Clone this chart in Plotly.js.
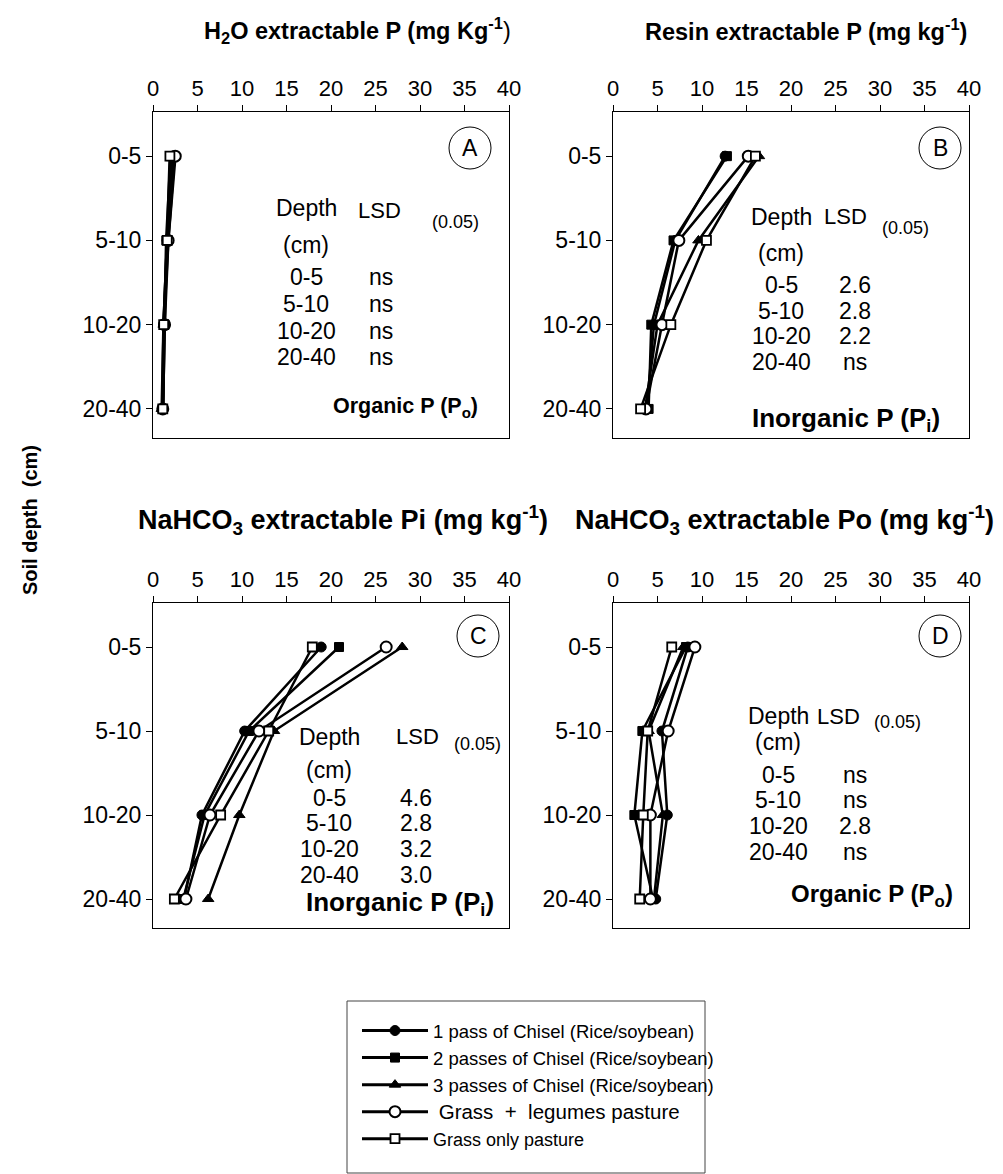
<!DOCTYPE html>
<html>
<head>
<meta charset="utf-8">
<script src="https://cdn.plot.ly/plotly-3.0.1.min.js"></script>
<style>
html,body{margin:0;padding:0;background:#fff;}
#chart{width:1003px;height:1174px;}
</style>
</head>
<body>
<div id="chart"></div>
<script>
// ---------- DATA ----------
var depths = ['0-5', '5-10', '10-20', '20-40'];
var seriesNames = [
  '1 pass of Chisel (Rice/soybean)',
  '2 passes of Chisel (Rice/soybean)',
  '3 passes of Chisel (Rice/soybean)',
  'Grass  +  legumes pasture',
  'Grass only pasture'
];
var xTicks = [0, 5, 10, 15, 20, 25, 30, 35, 40];

// Panel A: H2O extractable Po
var h2oPass1 = [2.2, 1.6, 1.2, 1.1];
var h2oPass2 = [2.0, 1.5, 1.3, 1.1];
var h2oPass3 = [2.4, 1.7, 1.2, 1.0];
var h2oGrassLeg = [2.5, 1.7, 1.3, 1.1];
var h2oGrass = [1.9, 1.6, 1.2, 1.1];

// Panel B: Resin extractable Pi
var resinPass1 = [12.6, 7.0, 4.6, 3.8];
var resinPass2 = [12.8, 6.8, 4.3, 4.0];
var resinPass3 = [16.4, 9.6, 5.0, 3.6];
var resinGrassLeg = [15.2, 7.4, 5.5, 3.7];
var resinGrass = [16.0, 10.5, 6.5, 3.1];

// Panel C: NaHCO3 extractable Pi
var bicPiPass1 = [18.9, 10.3, 5.5, 3.5];
var bicPiPass2 = [20.9, 10.8, 5.8, 3.4];
var bicPiPass3 = [28.0, 13.6, 9.7, 6.2];
var bicPiGrassLeg = [26.2, 11.9, 6.4, 3.7];
var bicPiGrass = [17.9, 13.0, 7.6, 2.4];

// Panel D: NaHCO3 extractable Po
var bicPoPass1 = [8.4, 5.5, 6.1, 4.8];
var bicPoPass2 = [8.2, 3.3, 2.4, 4.5];
var bicPoPass3 = [7.9, 4.0, 5.6, 4.6];
var bicPoGrassLeg = [9.2, 6.2, 4.2, 4.2];
var bicPoGrass = [6.6, 3.9, 3.4, 3.0];

// LSD tables
var lsdDepths = ['0-5', '5-10', '10-20', '20-40'];
var lsdA = ['ns', 'ns', 'ns', 'ns'];
var lsdB = ['2.6', '2.8', '2.2', 'ns'];
var lsdC = ['4.6', '2.8', '3.2', '3.0'];
var lsdD = ['ns', 'ns', '2.8', 'ns'];

// ---------- STYLE ----------
var W = 1003, H = 1174;
var FONT = 'Arial, "Liberation Sans", sans-serif';
function px(x) { return x / W; }
function py(y) { return 1 - y / H; }

var markerStyles = [
  {symbol: 'circle', color: '#000', size: 10, line: {color: '#000', width: 1}},
  {symbol: 'square', color: '#000', size: 9, line: {color: '#000', width: 1}},
  {symbol: 'triangle-up', color: '#000', size: 10, line: {color: '#000', width: 1}},
  {symbol: 'circle', color: '#fff', size: 11, line: {color: '#000', width: 2}},
  {symbol: 'square', color: '#fff', size: 9, line: {color: '#000', width: 1.8}}
];
var legendNames = [
  seriesNames[0], seriesNames[1], seriesNames[2],
  '<span style="font-size:20.5px"> ' + seriesNames[3] + '</span>',
  '<span style="font-size:18px">' + seriesNames[4] + '</span>'
];

var panels = [
  {ax: '', data: [h2oPass1, h2oPass2, h2oPass3, h2oGrassLeg, h2oGrass], lw: 3},
  {ax: '2', data: [resinPass1, resinPass2, resinPass3, resinGrassLeg, resinGrass], lw: 2.5},
  {ax: '3', data: [bicPiPass1, bicPiPass2, bicPiPass3, bicPiGrassLeg, bicPiGrass], lw: 2.5},
  {ax: '4', data: [bicPoPass1, bicPoPass2, bicPoPass3, bicPoGrassLeg, bicPoGrass], lw: 2.5}
];

var traces = [];
panels.forEach(function (p, pi) {
  p.data.forEach(function (vals, si) {
    traces.push({
      type: 'scatter', mode: 'lines+markers',
      x: vals, y: depths,
      xaxis: 'x' + p.ax, yaxis: 'y' + p.ax,
      name: legendNames[si],
      legendgroup: 's' + si,
      showlegend: pi === 0,
      line: {color: '#000', width: p.lw},
      marker: markerStyles[si],
      cliponaxis: false
    });
  });
});

// axes geometry (pixels)
var colX = [[153, 509], [613, 969]];
var rowY = [[112, 438], [603, 928]];

function xa(col, row, anchor) {
  return {
    domain: [px(colX[col][0]), px(colX[col][1])],
    anchor: anchor, side: 'top', range: [0, 40],
    tickvals: xTicks, ticktext: xTicks.map(String),
    ticks: 'outside', ticklen: 6, tickcolor: '#000', tickwidth: 1,
    showline: true, mirror: true, linecolor: '#000', linewidth: 1,
    showgrid: false, zeroline: false,
    tickfont: {family: FONT, size: 22, color: '#000'}
  };
}
function ya(col, row, anchor) {
  return {
    domain: [py(rowY[row][1]), py(rowY[row][0])],
    anchor: anchor, type: 'category', categoryarray: depths,
    range: [3.345, -0.524],
    ticks: 'outside', ticklen: 6, tickcolor: '#000', tickwidth: 1,
    showline: true, mirror: true, linecolor: '#000', linewidth: 1,
    showgrid: false, zeroline: false,
    tickfont: {family: FONT, size: 23, color: '#000'}
  };
}

var annotations = [];
function txt(text, x, y, size, opts) {
  opts = opts || {};
  annotations.push({
    text: text, xref: 'paper', yref: 'paper', x: px(x), y: py(y),
    xanchor: opts.xanchor || 'center', yanchor: 'middle', showarrow: false,
    font: {family: FONT, size: size, color: '#000'}, textangle: opts.angle || 0
  });
}

// Titles
txt('<b>H<sub>2</sub>O extractable P (mg Kg<sup>-1</sup></b>)', 357, 30, 23.5);
txt('<b>Resin extractable P (mg kg<sup>-1</sup>)</b>', 806, 30, 23.5);
txt('<b>NaHCO<sub>3</sub> extractable Pi (mg kg<sup>-1</sup>)</b>', 343, 520, 27);
txt('<b>NaHCO<sub>3</sub> extractable Po (mg kg<sup>-1</sup>)</b>', 784, 520, 27);
txt('<b>Soil depth  (cm)</b>', 30, 520, 20, {angle: -90});

var tables = [
  {dx: 306, vx: 381, hy: 208, cy: 245, rows: [277, 304, 331, 357], lx: 379, ly: 210, sx: 455, sy: 222,
   foot: '<b>Organic P (P<sub>o</sub>)</b>', fx: 405, fy: 407, fs: 21.5, vals: lsdA},
  {dx: 781, vx: 855, hy: 217, cy: 253, rows: [285, 311, 336, 362], lx: 845, ly: 216, sx: 905, sy: 228,
   foot: '<b>Inorganic P (P<sub>i</sub>)</b>', fx: 846, fy: 419, fs: 26, vals: lsdB},
  {dx: 329, vx: 416, hy: 737, cy: 770, rows: [798, 823, 849, 875], lx: 417, ly: 736, sx: 477, sy: 744,
   foot: '<b>Inorganic P (P<sub>i</sub>)</b>', fx: 400, fy: 903, fs: 26, vals: lsdC},
  {dx: 778, vx: 855, hy: 716, cy: 742, rows: [775, 800, 826, 852], lx: 838, ly: 716, sx: 897, sy: 722,
   foot: '<b>Organic P (P<sub>o</sub>)</b>', fx: 872, fy: 895, fs: 24, vals: lsdD}
];
tables.forEach(function (t) {
  txt('Depth', t.dx, t.hy, 23);
  txt('LSD', t.lx, t.ly, 22);
  txt('(0.05)', t.sx, t.sy, 18);
  txt('(cm)', t.dx, t.cy, 23);
  lsdDepths.forEach(function (d, i) {
    txt(d, t.dx, t.rows[i], 23);
    txt(t.vals[i], t.vx, t.rows[i], 23);
  });
  txt(t.foot, t.fx, t.fy, t.fs);
});

// Panel letters in circles
var letters = [['A', 470, 148], ['B', 940, 148], ['C', 478, 636], ['D', 940, 636]];
var shapes = [];
letters.forEach(function (l) {
  var r = 21;
  shapes.push({type: 'circle', xref: 'paper', yref: 'paper',
    x0: px(l[1] - r), x1: px(l[1] + r), y0: py(l[2] + r), y1: py(l[2] - r),
    line: {color: '#000', width: 1}, fillcolor: 'rgba(0,0,0,0)'});
  txt(l[0], l[1], l[2], 23);
});
// legend frame
shapes.push({type: 'rect', xref: 'paper', yref: 'paper',
  x0: px(347), x1: px(705), y0: py(1173), y1: py(1001),
  line: {color: '#444', width: 1}, fillcolor: 'rgba(0,0,0,0)'});

var layout = {
  width: W, height: H,
  margin: {l: 0, r: 0, t: 0, b: 0},
  paper_bgcolor: '#fff', plot_bgcolor: '#fff',
  font: {family: FONT, color: '#000'},
  xaxis: xa(0, 0, 'y'), yaxis: ya(0, 0, 'x'),
  xaxis2: xa(1, 0, 'y2'), yaxis2: ya(1, 0, 'x2'),
  xaxis3: xa(0, 1, 'y3'), yaxis3: ya(0, 1, 'x3'),
  xaxis4: xa(1, 1, 'y4'), yaxis4: ya(1, 1, 'x4'),
  showlegend: true,
  legend: {
    x: px(357), y: py(1012), xanchor: 'left', yanchor: 'top',
    borderwidth: 0, bgcolor: 'rgba(0,0,0,0)',
    font: {family: FONT, size: 18.5, color: '#000'},
    tracegroupgap: 0, itemwidth: 66
  },
  annotations: annotations,
  shapes: shapes
};

Plotly.newPlot('chart', traces, layout, {displayModeBar: false, staticPlot: true});
</script>
</body>
</html>
